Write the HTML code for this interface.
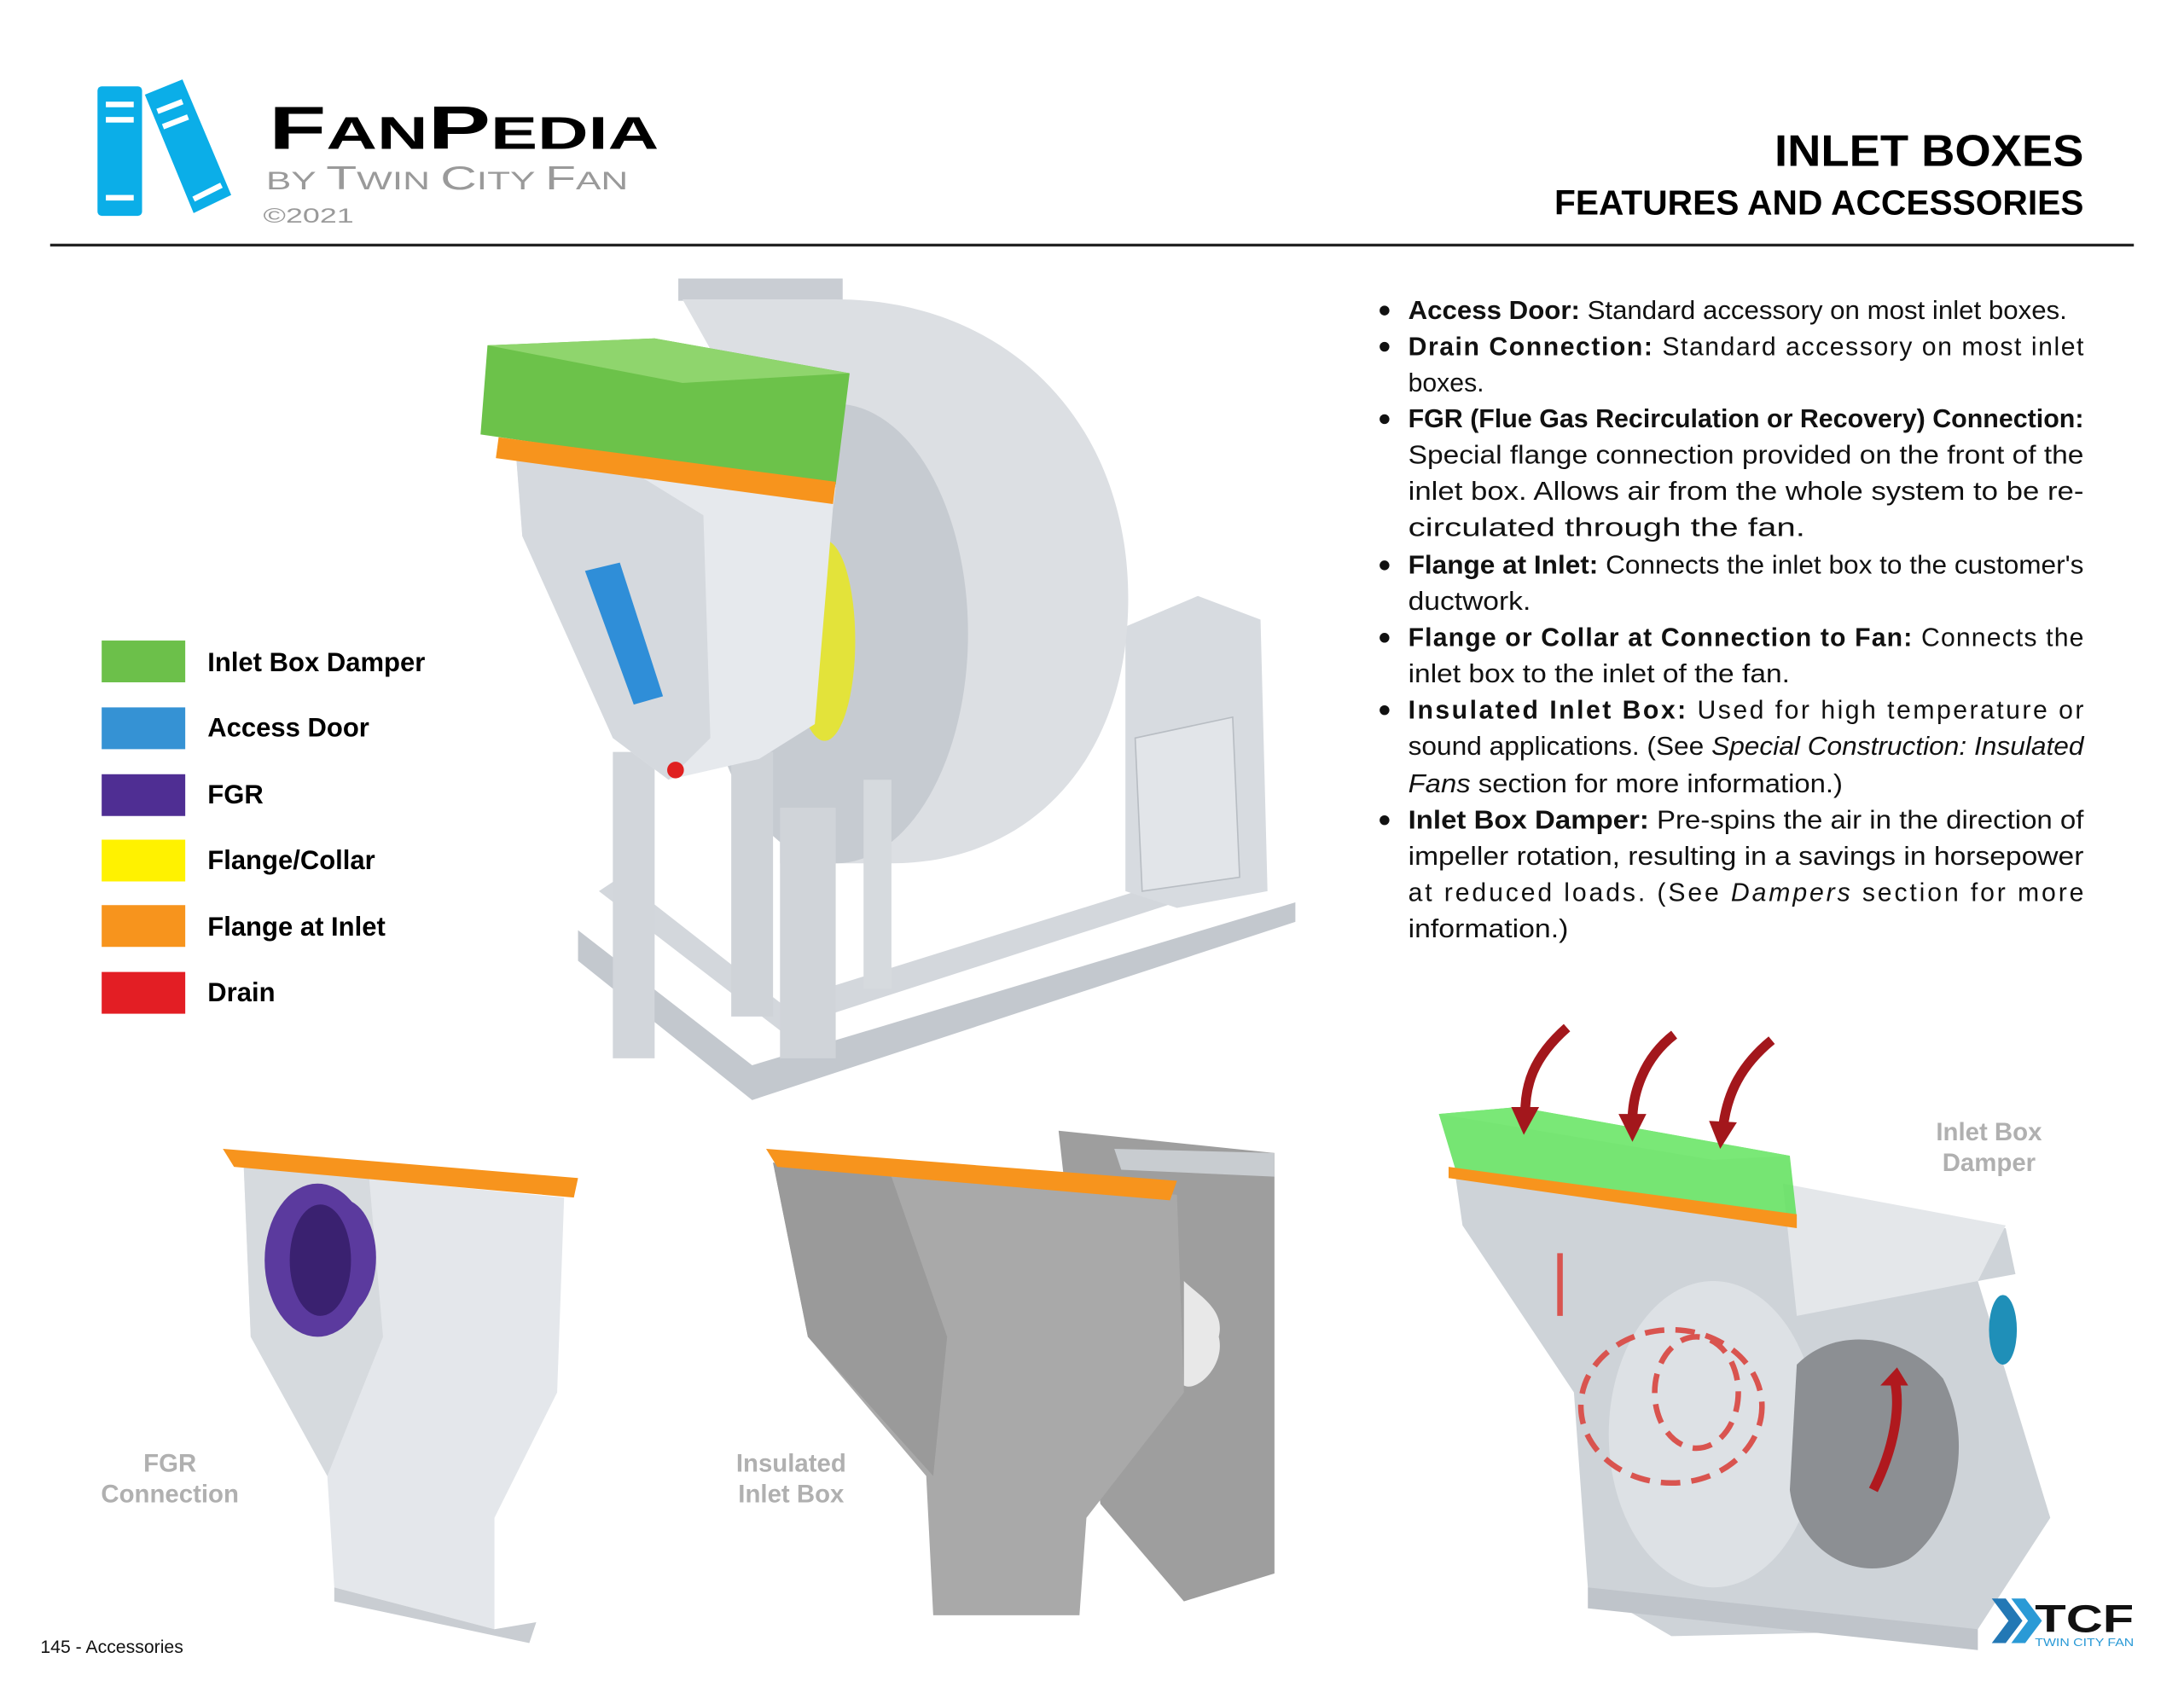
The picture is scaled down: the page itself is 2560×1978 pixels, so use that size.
<!DOCTYPE html>
<html><head><meta charset="utf-8"><style>
html,body{margin:0;padding:0;background:#fff;}
svg{display:block;}
</style></head><body>
<svg width="2560" height="1978" viewBox="0 0 1568 1211.5" xmlns="http://www.w3.org/2000/svg" font-family="Liberation Sans, sans-serif">
<rect width="1568" height="1211.5" fill="#fff"/>
<!-- logo books -->
<rect x="70" y="62" width="32" height="93" rx="3" fill="#0baee8"/>
<rect x="76" y="73" width="20" height="4" fill="#fff"/><rect x="76" y="84" width="20" height="4" fill="#fff"/><rect x="76" y="140" width="20" height="4" fill="#fff"/>
<polygon points="104,68 131,57 166,140 139,153" fill="#0baee8"/>
<line x1="113" y1="80" x2="131" y2="73" stroke="#fff" stroke-width="4"/>
<line x1="117" y1="91" x2="135" y2="84" stroke="#fff" stroke-width="4"/>
<line x1="139" y1="143" x2="159" y2="133" stroke="#fff" stroke-width="4"/>
<text x="193" y="107" font-size="44" font-weight="bold" textLength="280" lengthAdjust="spacingAndGlyphs">F<tspan font-size="33">AN</tspan>P<tspan font-size="33">EDIA</tspan></text>
<text x="191" y="136" font-size="24" fill="#9a9a9a" textLength="260" lengthAdjust="spacingAndGlyphs"><tspan font-size="18">BY </tspan>T<tspan font-size="18">WIN </tspan>C<tspan font-size="18">ITY </tspan>F<tspan font-size="18">AN</tspan></text>
<text x="189" y="160" font-size="15" fill="#9a9a9a" textLength="65" lengthAdjust="spacingAndGlyphs">©2021</text>
<text x="1496" y="119" font-size="32" font-weight="bold" text-anchor="end" textLength="222" lengthAdjust="spacingAndGlyphs">INLET BOXES</text>
<text x="1496" y="154" font-size="25" font-weight="bold" text-anchor="end" textLength="380" lengthAdjust="spacingAndGlyphs">FEATURES AND ACCESSORIES</text>
<rect x="36" y="175" width="1496" height="2" fill="#222"/>

<!-- legend -->
<g font-size="19" font-weight="bold">
<rect x="73" y="460" width="60" height="30" fill="#6cc04a"/><text x="149" y="482">Inlet Box Damper</text>
<rect x="73" y="508" width="60" height="30" fill="#3592d4"/><text x="149" y="529">Access Door</text>
<rect x="73" y="556" width="60" height="30" fill="#4f2e93"/><text x="149" y="577">FGR</text>
<rect x="73" y="603" width="60" height="30" fill="#fff200"/><text x="149" y="624">Flange/Collar</text>
<rect x="73" y="650" width="60" height="30" fill="#f7941d"/><text x="149" y="672">Flange at Inlet</text>
<rect x="73" y="698" width="60" height="30" fill="#e31e24"/><text x="149" y="719">Drain</text>
</g>

<!-- bullets -->
<g fill="#111">
<circle cx="994" cy="223" r="3.5"/><circle cx="994" cy="249" r="3.5"/><circle cx="994" cy="301" r="3.5"/><circle cx="994" cy="406" r="3.5"/><circle cx="994" cy="458" r="3.5"/><circle cx="994" cy="510" r="3.5"/><circle cx="994" cy="589" r="3.5"/>
</g>
<g font-size="18.5" fill="#111">
<text x="1011" y="229" textLength="473" lengthAdjust="spacingAndGlyphs"><tspan font-weight="bold">Access Door:</tspan> Standard accessory on most inlet boxes.</text>
<text x="1011" y="255" textLength="485" lengthAdjust="spacing"><tspan font-weight="bold">Drain Connection:</tspan> Standard accessory on most inlet</text>
<text x="1011" y="281">boxes.</text>
<text x="1011" y="307" textLength="485" lengthAdjust="spacingAndGlyphs"><tspan font-weight="bold">FGR (Flue Gas Recirculation or Recovery) Connection:</tspan></text>
<text x="1011" y="333" textLength="485" lengthAdjust="spacingAndGlyphs">Special flange connection provided on the front of the</text>
<text x="1011" y="359" textLength="485" lengthAdjust="spacingAndGlyphs">inlet box. Allows air from the whole system to be re-</text>
<text x="1011" y="385" textLength="285" lengthAdjust="spacingAndGlyphs">circulated through the fan.</text>
<text x="1011" y="412" textLength="485" lengthAdjust="spacingAndGlyphs"><tspan font-weight="bold">Flange at Inlet:</tspan> Connects the inlet box to the customer's</text>
<text x="1011" y="438" textLength="88" lengthAdjust="spacingAndGlyphs">ductwork.</text>
<text x="1011" y="464" textLength="485" lengthAdjust="spacing"><tspan font-weight="bold">Flange or Collar at Connection to Fan:</tspan> Connects the</text>
<text x="1011" y="490" textLength="274" lengthAdjust="spacingAndGlyphs">inlet box to the inlet of the fan.</text>
<text x="1011" y="516" textLength="485" lengthAdjust="spacing"><tspan font-weight="bold">Insulated Inlet Box:</tspan> Used for high temperature or</text>
<text x="1011" y="542" textLength="485" lengthAdjust="spacingAndGlyphs">sound applications. (See <tspan font-style="italic">Special Construction: Insulated</tspan></text>
<text x="1011" y="569" textLength="312" lengthAdjust="spacingAndGlyphs"><tspan font-style="italic">Fans</tspan> section for more information.)</text>
<text x="1011" y="595" textLength="485" lengthAdjust="spacingAndGlyphs"><tspan font-weight="bold">Inlet Box Damper:</tspan> Pre-spins the air in the direction of</text>
<text x="1011" y="621" textLength="485" lengthAdjust="spacingAndGlyphs">impeller rotation, resulting in a savings in horsepower</text>
<text x="1011" y="647" textLength="485" lengthAdjust="spacing">at reduced loads. (See <tspan font-style="italic">Dampers</tspan> section for more</text>
<text x="1011" y="673" textLength="115" lengthAdjust="spacingAndGlyphs">information.)</text>
</g>

<!-- main fan -->
<g>
<polygon points="415,668 540,765 930,648 930,662 540,790 415,690" fill="#c3c8ce"/>
<polygon points="430,640 560,740 900,630 880,620 560,720 445,630" fill="#d3d7dc"/>
<polygon points="808,450 860,428 905,445 910,640 845,652 808,640" fill="#d7dbe0"/>
<polygon points="815,530 885,515 890,630 820,640" fill="#e2e5e9" stroke="#b8bdc3"/>
<rect x="487" y="200" width="118" height="16" fill="#c9cdd3"/>
<path d="M490,215 L600,215 C720,215 810,300 810,430 C810,545 740,620 640,620 L560,620 L560,340 Z" fill="#dcdfe3"/>
<ellipse cx="600" cy="455" rx="95" ry="165" fill="#c6cbd1"/>
<ellipse cx="592" cy="460" rx="22" ry="72" fill="#e3e33a"/>
<rect x="560" y="580" width="40" height="180" fill="#d0d4d9"/>
<rect x="440" y="540" width="30" height="220" fill="#d2d6db"/>
<rect x="525" y="540" width="30" height="190" fill="#cfd3d8"/>
<rect x="620" y="560" width="20" height="150" fill="#d6dade"/>
<polygon points="370,320 600,350 598,365 585,520 545,545 480,560 440,530 375,385" fill="#e6e9ed"/>
<polygon points="370,320 440,330 505,370 510,530 480,560 440,530 375,385" fill="#d5d9de"/>
<polygon points="420,410 445,404 476,500 455,506" fill="#2f8ed8"/>
<circle cx="485" cy="553" r="6" fill="#e02020"/>
<polygon points="350,248 470,243 610,268 600,348 470,330 345,312" fill="#6cc24a"/>
<polygon points="350,248 470,243 610,268 490,275" fill="#8fd56d"/>
<polygon points="358,314 600,346 598,362 356,329" fill="#f7941d"/>
</g>

<!-- FGR box -->
<g>
<polygon points="175,838 405,860 400,1000 355,1090 355,1170 240,1140 235,1060 180,960" fill="#e4e7eb"/>
<polygon points="175,838 265,846 275,960 235,1060 180,960" fill="#d6dade"/>
<polygon points="240,1140 355,1170 385,1165 380,1180 240,1150" fill="#c9cdd2"/>
<polygon points="160,825 415,846 412,860 168,838" fill="#f7941d"/>
<ellipse cx="245" cy="903" rx="25" ry="42" fill="#5b3a9e"/>
<ellipse cx="228" cy="905" rx="38" ry="55" fill="#5b3a9e"/>
<ellipse cx="230" cy="905" rx="22" ry="40" fill="#3a2170"/>
</g>
<text x="122" y="1057" font-size="18" font-weight="bold" fill="#b0b0b0" text-anchor="middle">FGR</text>
<text x="122" y="1079" font-size="18" font-weight="bold" fill="#b0b0b0" text-anchor="middle">Connection</text>

<!-- insulated -->
<g>
<polygon points="760,812 915,828 915,1130 850,1150 790,1080" fill="#9e9e9e"/>
<polygon points="800,825 915,828 915,845 805,840" fill="#c8ccd0"/>
<polygon points="555,835 845,858 850,1000 780,1090 775,1160 670,1160 665,1060 580,960" fill="#a9a9a9"/>
<polygon points="555,835 640,845 680,960 670,1060 580,960" fill="#9a9a9a"/>
<path d="M850,920 C860,930 880,940 875,960 C880,980 860,1000 850,995 Z" fill="#e8e8e8"/>
<polygon points="550,825 845,848 840,862 558,838" fill="#f7941d"/>
</g>
<text x="568" y="1057" font-size="18" font-weight="bold" fill="#b0b0b0" text-anchor="middle">Insulated</text>
<text x="568" y="1079" font-size="18" font-weight="bold" fill="#b0b0b0" text-anchor="middle">Inlet Box</text>

<!-- damper fan -->
<g>
<polygon points="1045,845 1290,880 1440,882 1447,915 1420,920 1472,1090 1420,1170 1200,1175 1140,1140 1130,1000 1050,880" fill="#ced3d8"/>
<polygon points="1280,850 1440,880 1420,920 1290,945" fill="#e4e7ea"/>
<ellipse cx="1230" cy="1030" rx="75" ry="110" fill="#dde1e5"/>
<path d="M1290,980 C1320,950 1370,960 1395,990 C1420,1040 1400,1100 1370,1120 C1330,1140 1290,1110 1285,1070 Z" fill="#8c8f93"/>
<ellipse cx="1438" cy="955" rx="10" ry="25" fill="#1f8fb8"/>
<polygon points="1140,1140 1420,1170 1420,1185 1140,1155" fill="#bfc4ca"/>
<g fill="none" stroke="#d9544f" stroke-width="4" stroke-dasharray="14 8">
<ellipse cx="1218" cy="1000" rx="30" ry="40"/>
<ellipse cx="1200" cy="1010" rx="65" ry="55"/>
</g>
<path d="M1120,900 L1120,945" stroke="#d9544f" stroke-width="4"/>
<path d="M1345,1070 C1360,1040 1365,1010 1360,990" stroke="#b0191e" stroke-width="7" fill="none"/>
<polygon points="1350,995 1370,995 1362,982" fill="#b0191e"/>
<polygon points="1033,800 1090,795 1285,830 1290,875 1045,840" fill="#5ee05a" fill-opacity="0.85"/>
<polygon points="1033,800 1090,795 1285,830 1230,833" fill="#7ae877"/>
<polygon points="1040,838 1290,872 1290,882 1040,846" fill="#f7941d"/>
<g stroke="#a3171c" stroke-width="7" fill="none">
<path d="M1125,738 C1100,760 1095,780 1095,800"/>
<path d="M1202,743 C1180,760 1172,785 1172,805"/>
<path d="M1272,747 C1250,765 1240,785 1237,810"/>
</g>
<g fill="#a3171c">
<polygon points="1085,795 1105,795 1094,815"/>
<polygon points="1162,800 1182,800 1172,820"/>
<polygon points="1227,805 1247,806 1235,825"/>
</g>
</g>
<text x="1428" y="819" font-size="18" font-weight="bold" fill="#b0b0b0" text-anchor="middle">Inlet Box</text>
<text x="1428" y="841" font-size="18" font-weight="bold" fill="#b0b0b0" text-anchor="middle">Damper</text>

<!-- TCF logo -->
<polygon points="1430,1148 1440,1148 1452,1164 1440,1180 1430,1180 1442,1164" fill="#2378b5"/>
<polygon points="1444,1148 1454,1148 1466,1164 1454,1180 1444,1180 1456,1164" fill="#2a9ad6"/>
<text x="1461" y="1172" font-size="28" font-weight="bold" fill="#111" textLength="71" lengthAdjust="spacingAndGlyphs">TCF</text>
<text x="1461" y="1182" font-size="8" fill="#2a9ad6" textLength="71" lengthAdjust="spacingAndGlyphs">TWIN CITY FAN</text>

<text x="29" y="1187" font-size="13" fill="#111">145 - Accessories</text>
</svg>
</body></html>
